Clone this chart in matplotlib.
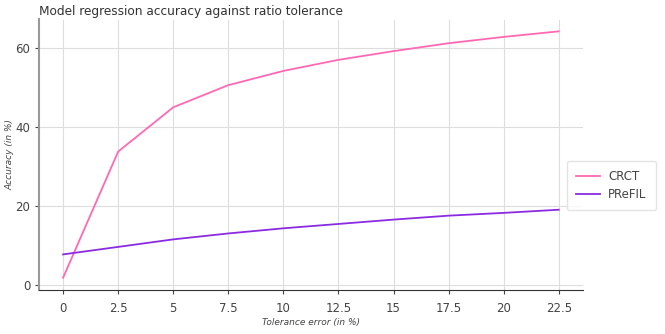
import matplotlib
matplotlib.use("Agg")
import matplotlib.pyplot as plt

tolerance = [0, 2.5, 5, 7.5, 10, 12.5, 15, 17.5, 20, 22.5]
tick_labels = ["0", "2.5", "5", "7.5", "10", "12.5", "15", "17.5", "20", "22.5"]
crct = [1.8, 33.7, 44.9, 50.5, 54.1, 56.9, 59.1, 61.1, 62.7, 64.1]
prefil = [7.7, 9.6, 11.5, 13.0, 14.3, 15.4, 16.5, 17.5, 18.2, 19.0]

W, H = 665, 334
fig = plt.figure(figsize=(W / 100, H / 100), dpi=100)
ax = fig.add_axes([39.3 / W, (H - 290) / H, (583 - 39.3) / W, (290 - 19.5) / H])

ax.plot(tolerance, crct, color="#ff69b4", lw=1.3, label="CRCT")
ax.plot(tolerance, prefil, color="#8a2be2", lw=1.3, label="PReFIL")

ax.set_xlim(-1.08, 23.6)
ax.set_ylim(-1.3, 67.1)
ax.set_xticks(tolerance)
ax.set_xticklabels(tick_labels)
ax.set_yticks([0, 20, 40, 60])
ax.grid(True, color="#dddddd", lw=0.8)
ax.set_axisbelow(True)
for s in ["top", "right"]:
    ax.spines[s].set_visible(False)
ax.spines["left"].set_color("#999999")
ax.spines["left"].set_linewidth(1.5)
ax.spines["bottom"].set_color("#333333")
ax.tick_params(colors="#444444", labelsize=8.5, length=3)
ax.tick_params(axis="x", pad=6)
fig.text(311 / W, 1 - 323 / H, "Tolerance error (in %)", fontsize=6.5, style="italic",
         color="#444444", ha="center", va="center")
fig.text(10 / W, 1 - 155 / H, "Accuracy (in %)", fontsize=6.5, style="italic",
         color="#444444", ha="center", va="center", rotation=90)
ax.set_title("Model regression accuracy against ratio tolerance", fontsize=8.7, color="#333333",
             loc="left", pad=3)
leg = ax.legend(loc="upper left", bbox_to_anchor=(567 / W, (H - 160.5) / H),
                bbox_transform=fig.transFigure, fontsize=8.5, frameon=True,
                edgecolor="#dddddd", labelcolor="#444444", borderaxespad=0,
                borderpad=0.8, labelspacing=0.4, handlelength=2.0, handletextpad=0.7)
fig.savefig("out.png", dpi=100)
